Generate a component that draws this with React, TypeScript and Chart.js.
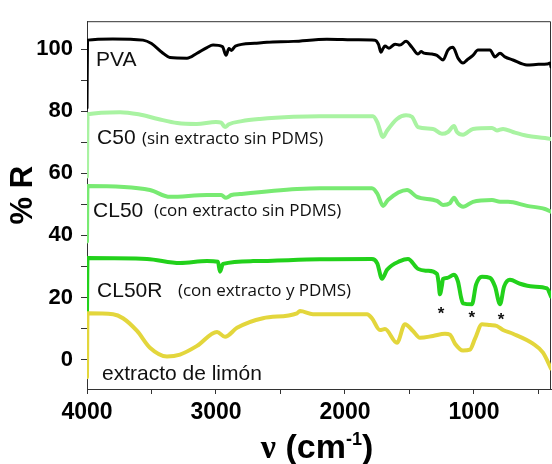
import React, { useEffect, useRef } from "react";
import { Chart, registerables } from "chart.js";

Chart.register(...registerables);

// ---------- data (wavenumber, cm-1 / %R) ----------
const pvaWn = [4000, 3996, 3800, 3566, 3500, 3420, 3357, 3225, 3150, 3070, 3023, 2950, 2922, 2900, 2880, 2850, 2700, 2605, 2400, 2140, 1900, 1767, 1740, 1721, 1705, 1690, 1659, 1612, 1574, 1527, 1481, 1434, 1410, 1388, 1326, 1287, 1240, 1202, 1163, 1124, 1085, 1054, 1008, 969, 876, 837, 798, 760, 698, 589, 500, 434, 410, 403];
const pvaR = [81, 102.9, 103.3, 102.9, 101.8, 99, 97.3, 97.1, 98.6, 100.5, 101.3, 100.8, 98.0, 100.2, 99.6, 101.0, 101.9, 102.2, 102.5, 103.2, 103.0, 102.9, 101.5, 99.0, 100.2, 101.0, 100.3, 101.6, 101.3, 102.5, 100.6, 98.4, 99.2, 98.7, 98.4, 98.0, 96.5, 99.7, 100.6, 97.1, 95.5, 96.5, 98.0, 99.7, 99.7, 97.5, 98.7, 97.5, 96.5, 94.9, 95.1, 95.2, 95.5, 94.3];

const c50Wn = [4000, 3996, 3744, 3600, 3450, 3300, 3150, 3000, 2960, 2930, 2900, 2800, 2659, 2400, 2194, 2000, 1829, 1783, 1750, 1705, 1674, 1597, 1527, 1481, 1434, 1318, 1248, 1202, 1155, 1132, 1085, 1008, 860, 822, 775, 698, 589, 411, 403];
const c50R = [59, 79.0, 79.7, 79.0, 77.5, 76.2, 75.9, 76.5, 76.3, 74.9, 75.8, 76.8, 77.5, 78.2, 78.4, 78.4, 78.4, 78.4, 76.5, 71.7, 73.7, 77.5, 78.7, 78.2, 74.9, 74.3, 72.7, 73.3, 75.2, 73.3, 72.4, 74.3, 74.6, 73.8, 74.3, 73.3, 72.1, 71.1, 71.0];

const cl50Wn = [4000, 3996, 3512, 3357, 3070, 2960, 2922, 2880, 2814, 2372, 2194, 1791, 1750, 1705, 1667, 1519, 1442, 1287, 1240, 1186, 1155, 1124, 1085, 1008, 860, 798, 736, 589, 450, 403];
const cl50R = [38, 55.9, 54.6, 52.4, 53.0, 53.0, 52.1, 53.0, 53.3, 54.9, 55.2, 55.2, 53.5, 49.5, 51.4, 54.6, 52.4, 51.1, 49.8, 50.4, 52.1, 50.2, 49.2, 50.8, 51.4, 50.8, 50.8, 49.5, 48.5, 47.6];

const cl50rWn = [4000, 3996, 3535, 3279, 3070, 2985, 2969, 2946, 2713, 2194, 1791, 1750, 1713, 1674, 1574, 1512, 1434, 1364, 1287, 1275, 1264, 1248, 1240, 1209, 1155, 1124, 1100, 1085, 1016, 984, 938, 876, 837, 798, 767, 721, 643, 543, 434, 403];
const cl50rR = [14, 32.7, 32.4, 31.1, 31.7, 31.5, 28.3, 30.8, 31.7, 32.3, 32.4, 31.0, 26.0, 28.9, 31.7, 32.4, 29.2, 28.6, 27.6, 25.0, 21.0, 24.0, 26.0, 26.3, 27.3, 25.1, 20.0, 18.1, 17.8, 24.1, 26.7, 26.3, 23.5, 17.8, 23.5, 25.7, 24.4, 23.5, 22.9, 20.3];

const extWn = [4000, 3996, 3798, 3721, 3612, 3512, 3380, 3279, 3147, 2992, 2930, 2837, 2636, 2372, 2349, 2248, 1829, 1791, 1729, 1690, 1597, 1535, 1473, 1419, 1318, 1225, 1186, 1147, 1085, 1031, 992, 938, 876, 822, 775, 698, 543, 465, 403];
const extR = [-5.7, 14.9, 14.6, 13.3, 9.2, 3.8, 1.0, 1.6, 4.4, 8.9, 7.3, 10.2, 13.3, 14.9, 15.6, 14.6, 14.6, 13.3, 9.5, 9.8, 5.4, 11.4, 9.2, 7.0, 7.6, 8.3, 8.0, 5.1, 2.9, 3.2, 6.7, 11.4, 11.1, 10.8, 9.5, 8.3, 5.1, 2.2, -2.9];

const seriesNames = ["PVA", "C50", "CL50", "CL50R", "extracto de limón"];
const xTickValues = [4000, 3500, 3000, 2500, 2000, 1500, 1000, 500];
const yTickValues = [0, 10, 20, 30, 40, 50, 60, 70, 80, 90, 100];

// ---------- annotations (anchored in data coordinates) ----------
const SANS = "'Liberation Sans', Arial, sans-serif";
const SMALL = "'Open Sans', sans-serif";
const annotations = [
  { text: "PVA", wn: 3930, r: 94.6, font: `21px ${SANS}` },
  { text: "C50", wn: 3922, r: 69.5, font: `21px ${SANS}` },
  { text: "(sin extracto sin PDMS)", wn: 3574, r: 69.4, font: `17px ${SMALL}` },
  { text: "CL50", wn: 3953, r: 46.0, font: `21px ${SANS}` },
  { text: "(con extracto sin PDMS)", wn: 3481, r: 46.2, font: `17px ${SMALL}` },
  { text: "CL50R", wn: 3922, r: 20.3, font: `21px ${SANS}` },
  { text: "(con extracto y PDMS)", wn: 3295, r: 20.5, font: `17px ${SMALL}` },
  { text: "extracto de limón", wn: 3884, r: -6.7, font: `21px ${SANS}` },
];
const asterisks = [
  { wn: 1256, r: 16.2 },
  { wn: 1016, r: 14.9 },
  { wn: 791, r: 14.3 },
];

const colors = ["#000000", "#a9f3a2", "#78ea72", "#22d11b", "#e3d63c"];
const widths = [3, 4, 4, 4, 4];

const pairs = (xs: number[], ys: number[]) => xs.map((x, i) => ({ x, y: ys[i] }));

const decorPlugin = {
  id: "decor",
  beforeDatasetsDraw(chart: any) {
    const { ctx, chartArea } = chart;
    const { left, right, top, bottom } = chartArea;
    ctx.save();
    ctx.strokeStyle = "#333";
    ctx.lineWidth = 1;
    ctx.beginPath();
    ctx.moveTo(left, top + 0.5);
    ctx.lineTo(right - 0.5, top + 0.5);
    ctx.lineTo(right - 0.5, bottom);
    ctx.stroke();
    ctx.restore();
  },
  afterDatasetsDraw(chart: any) {
    const { ctx, scales } = chart;
    const xs = scales.x;
    const ys = scales.y;
    ctx.save();
    ctx.fillStyle = "#111";
    ctx.textAlign = "left";
    ctx.textBaseline = "alphabetic";
    annotations.forEach((a) => {
      ctx.font = a.font;
      ctx.fillText(a.text, xs.getPixelForValue(a.wn), ys.getPixelForValue(a.r));
    });
    ctx.textAlign = "center";
    ctx.textBaseline = "middle";
    ctx.font = `bold 17px ${SANS}`;
    asterisks.forEach((a) => {
      ctx.fillText("*", xs.getPixelForValue(a.wn), ys.getPixelForValue(a.r) + 5);
    });
    ctx.restore();
  },
  afterDraw(chart: any) {
    const { ctx, chartArea } = chart;
    ctx.save();
    ctx.fillStyle = "#000";
    // y title
    ctx.translate(23, (chartArea.top + chartArea.bottom) / 2 - 10);
    ctx.rotate(-Math.PI / 2);
    ctx.textAlign = "center";
    ctx.textBaseline = "middle";
    ctx.font = `bold 31px ${SANS}`;
    ctx.fillText("% R", 0, 0);
    ctx.restore();

    // x title: ν (cm-1)
    ctx.save();
    ctx.fillStyle = "#000";
    ctx.textAlign = "left";
    ctx.textBaseline = "alphabetic";
    const fNu = `bold 34px 'Liberation Serif', 'Times New Roman', serif`;
    const fMain = `bold 34px ${SANS}`;
    const fSup = `bold 18px ${SANS}`;
    const parts = [
      { t: "ν", f: fNu, dy: 0 },
      { t: " (cm", f: fMain, dy: 0 },
      { t: "-1", f: fSup, dy: -13 },
      { t: ")", f: fMain, dy: 0 },
    ];
    let total = 0;
    const ws = parts.map((p) => {
      ctx.font = p.f;
      const w = ctx.measureText(p.t).width;
      total += w;
      return w;
    });
    let x = (chartArea.left + chartArea.right) / 2 - 2 - total / 2;
    const base = 458;
    parts.forEach((p, i) => {
      ctx.font = p.f;
      ctx.fillText(p.t, x, base + p.dy);
      x += ws[i];
    });
    ctx.restore();
  },
};

export default function App() {
  const ref = useRef<HTMLCanvasElement | null>(null);

  useEffect(() => {
    if (!ref.current) return;
    const series = [
      pairs(pvaWn, pvaR),
      pairs(c50Wn, c50R),
      pairs(cl50Wn, cl50R),
      pairs(cl50rWn, cl50rR),
      pairs(extWn, extR),
    ];
    const chart = new Chart(ref.current, {
      type: "line",
      data: {
        datasets: series.map((d, i) => ({
          label: seriesNames[i],
          data: d,
          borderColor: colors[i],
          backgroundColor: colors[i],
          borderWidth: widths[i],
          pointRadius: 0,
          fill: false,
          cubicInterpolationMode: "monotone" as const,
          borderJoinStyle: "round" as const,
          borderCapStyle: "round" as const,
          order: 4 - i,
        })),
      },
      options: {
        animation: false,
        responsive: false,
        devicePixelRatio: 1,
        parsing: true,
        layout: { padding: { top: 16, right: 1, left: 0, bottom: 0 } },
        plugins: {
          legend: { display: false },
          tooltip: { enabled: false },
          title: { display: false },
        },
        scales: {
          x: {
            type: "linear",
            reverse: true,
            min: 403,
            max: 4000,
            afterBuildTicks: (s: any) => {
              s.ticks = xTickValues.map((v) => ({ value: v }));
            },
            afterFit: (s: any) => {
              s.height = 75;
            },
            ticks: {
              autoSkip: false,
              maxRotation: 0,
              padding: 5,
              color: "#000",
              font: { family: SANS, size: 23, weight: "bold" },
              callback: (v: any) => (Number(v) % 1000 === 0 ? String(v) : ""),
            },
            grid: { drawOnChartArea: false, drawTicks: true, tickLength: 5, color: "#333" },
            border: { display: true, color: "#333", width: 1 },
          },
          y: {
            type: "linear",
            min: -9.5,
            max: 109,
            afterBuildTicks: (s: any) => {
              s.ticks = yTickValues.map((v) => ({ value: v }));
            },
            afterFit: (s: any) => {
              s.width = 87;
            },
            ticks: {
              autoSkip: false,
              padding: 8,
              color: "#000",
              font: { family: SANS, size: 22, weight: "bold" },
              callback: (v: any) => (Number(v) % 20 === 0 ? String(v) : ""),
            },
            grid: { drawOnChartArea: false, drawTicks: true, tickLength: 6, color: "#333" },
            border: { display: true, color: "#333", width: 1 },
          },
        },
      },
      plugins: [decorPlugin],
    } as any);
    return () => chart.destroy();
  }, []);

  return (
    <div style={{ position: "fixed", left: 0, top: 0, width: 552, height: 464, background: "#fff" }}>
      <canvas ref={ref} width={552} height={464} style={{ display: "block", width: 552, height: 464 }} />
    </div>
  );
}
